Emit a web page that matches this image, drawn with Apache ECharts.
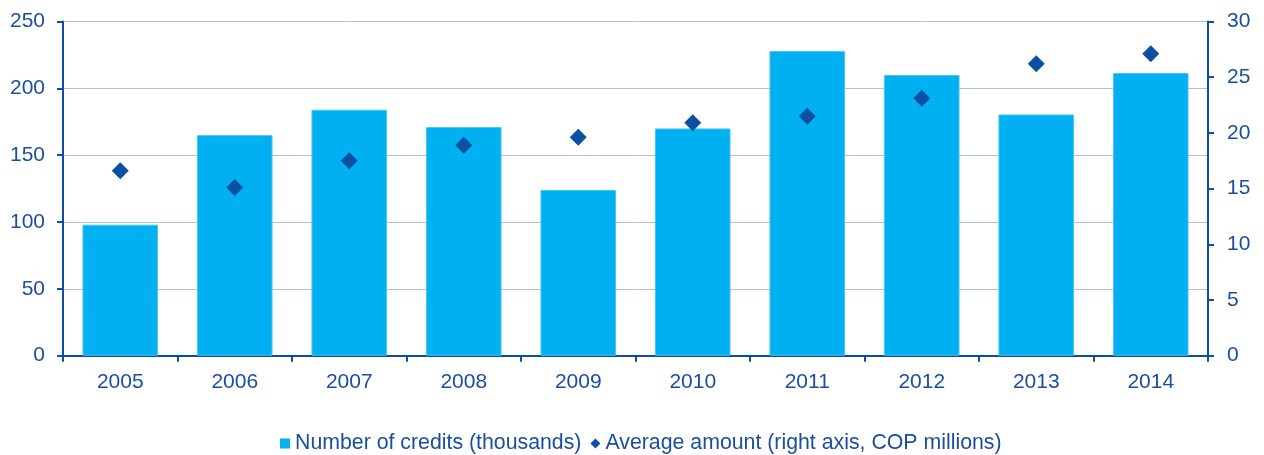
<!DOCTYPE html>
<html>
<head>
<meta charset="utf-8">
<script src="https://cdn.jsdelivr.net/npm/echarts@6/dist/echarts.min.js"></script>
<style>
  html, body { margin: 0; padding: 0; background: #fff; }
  #chart { width: 1264px; height: 455px; }
</style>
</head>
<body>
<div id="chart"></div>
<script>
// Years on the category axis
const years = ['2005', '2006', '2007', '2008', '2009', '2010', '2011', '2012', '2013', '2014'];
// Number of credits, thousands (left axis)
const credits = [98, 165, 184, 171, 124, 170, 228, 210, 180.5, 211.5];
// Average amount, COP millions (right axis)
const avgAmount = [16.6, 15.1, 17.5, 18.9, 19.6, 20.9, 21.5, 23.1, 26.2, 27.1];

const seriesNames = ['Number of credits (thousands)', 'Average amount (right axis, COP millions)'];

const axisBlue = '#0B4EA2';
const textBlue = '#1A4E9E';
const font = 'Liberation Sans, Arial, sans-serif';

const chart = echarts.init(document.getElementById('chart'), null, { renderer: 'canvas' });

chart.setOption({
  animation: false,
  textStyle: { fontFamily: font },
  grid: { left: 63, right: 56, top: 21.5, bottom: 99.3, containLabel: false },
  legend: {
    top: 428,
    left: 275,
    itemWidth: 10,
    itemHeight: 10,
    itemGap: 9,
    textStyle: { color: textBlue, fontSize: 21.3, fontFamily: font },
    data: [
      { name: seriesNames[0], icon: 'rect', itemStyle: { color: '#00B0F0', borderWidth: 0 } },
      { name: seriesNames[1], icon: 'diamond' }
    ]
  },
  xAxis: {
    type: 'category',
    data: years,
    axisLine: { lineStyle: { color: axisBlue, width: 2 } },
    axisTick: { show: true, length: 6, lineStyle: { color: axisBlue, width: 2 } },
    axisLabel: { color: textBlue, fontSize: 21, margin: 16, fontFamily: font }
  },
  yAxis: [
    {
      type: 'value',
      min: 0, max: 250, interval: 50,
      axisLine: { show: true, lineStyle: { color: axisBlue, width: 2 } },
      axisTick: { show: true, length: 6, lineStyle: { color: axisBlue, width: 2 } },
      axisLabel: { color: textBlue, fontSize: 21, margin: 18, fontFamily: font },
      splitLine: { show: true, lineStyle: { color: '#B3BFDD', width: 1 } }
    },
    {
      type: 'value',
      min: 0, max: 30, interval: 5,
      position: 'right',
      axisLine: { show: true, lineStyle: { color: axisBlue, width: 2 } },
      axisTick: { show: true, length: 6, lineStyle: { color: axisBlue, width: 2 } },
      axisLabel: { color: textBlue, fontSize: 21, margin: 19, fontFamily: font },
      splitLine: { show: false }
    }
  ],
  series: [
    {
      name: seriesNames[0],
      type: 'bar',
      data: credits,
      yAxisIndex: 0,
      barCategoryGap: '34%',
      itemStyle: { color: '#00B0F0', borderColor: '#4CC6F3', borderWidth: 1 }
    },
    {
      name: seriesNames[1],
      type: 'scatter',
      data: avgAmount,
      yAxisIndex: 1,
      symbol: 'diamond',
      symbolSize: 17,
      itemStyle: { color: '#0B50A3', opacity: 1 },
      z: 5
    }
  ]
});
</script>
</body>
</html>
